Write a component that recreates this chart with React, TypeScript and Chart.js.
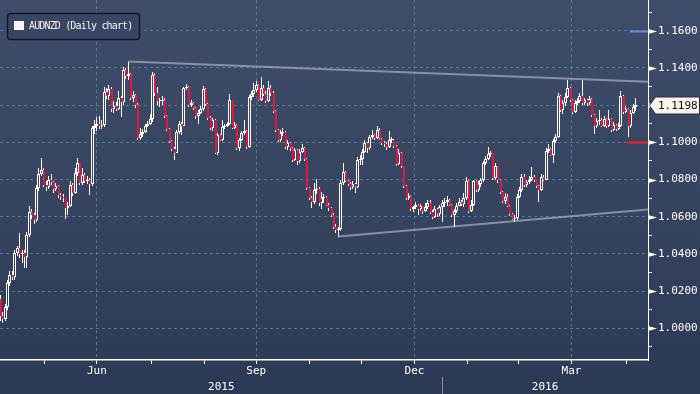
import React, { useEffect, useRef } from 'react';
import { Chart, registerables } from 'chart.js';
Chart.register(...registerables);

// ---- DATA (AUDNZD daily, trading-day index 0 = 21 Apr 2015) ----
const opens = [
  1.0160, 1.0065, 1.0050, 1.0117, 1.0242, 1.0287, 1.0278, 1.0403, 1.0430, 1.0400,
  1.0405, 1.0385, 1.0502, 1.0627, 1.0609, 1.0580, 1.0752, 1.0830, 1.0850, 1.0771,
  1.0762, 1.0800, 1.0785, 1.0750, 1.0765, 1.0717, 1.0707, 1.0698, 1.0645, 1.0660,
  1.0770, 1.0730, 1.0833, 1.0887, 1.0779, 1.0825, 1.0790, 1.0800, 1.0775, 1.1075,
  1.1085, 1.1100, 1.1090, 1.1095, 1.1270, 1.1250, 1.1285, 1.1180, 1.1195, 1.1180,
  1.1240, 1.1215, 1.1390, 1.1355, 1.1365, 1.1240, 1.1255, 1.1200, 1.1025, 1.1045,
  1.1058, 1.1090, 1.1100, 1.1125, 1.1360, 1.1265, 1.1220, 1.1222, 1.1230, 1.1140,
  1.1070, 1.1005, 1.0965, 1.0945, 1.1055, 1.1100, 1.1090, 1.1290, 1.1300, 1.1200,
  1.1210, 1.1185, 1.1140, 1.1160, 1.1180, 1.1285, 1.1205, 1.1130, 1.1075, 1.1120,
  1.0945, 1.1040, 1.1013, 1.1084, 1.1090, 1.1100, 1.1227, 1.1075, 1.1095, 1.0970,
  1.1013, 1.1048, 1.1060, 1.0977, 1.1245, 1.1260, 1.1280, 1.1308, 1.1230, 1.1290,
  1.1260, 1.1220, 1.1290, 1.1265, 1.1170, 1.1066, 1.1013, 1.1048, 1.1055, 1.0977,
  1.0995, 1.0968, 1.0905, 1.0959, 1.0900, 1.0950, 1.0968, 1.0910, 1.0753, 1.0700,
  1.0680, 1.0745, 1.0750, 1.0672, 1.0700, 1.0705, 1.0665, 1.0645, 1.0610, 1.0545,
  1.0530, 1.0535, 1.0780, 1.0840, 1.0790, 1.0775, 1.0760, 1.0775, 1.0760, 1.0905,
  1.0910, 1.0950, 1.0995, 1.0970, 1.1030, 1.1040, 1.1025, 1.1066, 1.1020, 1.0995,
  1.0990, 1.0975, 1.1010, 1.1015, 1.0980, 1.0885, 1.0945, 1.0870, 1.0765, 1.0700,
  1.0710, 1.0640, 1.0650, 1.0665, 1.0640, 1.0655, 1.0630, 1.0650, 1.0672, 1.0625,
  1.0600, 1.0640, 1.0615, 1.0650, 1.0672, 1.0680, 1.0690, 1.0665, 1.0610, 1.0630,
  1.0660, 1.0680, 1.0670, 1.0700, 1.0790, 1.0630, 1.0665, 1.0790, 1.0745, 1.0775,
  1.0795, 1.0887, 1.0910, 1.0935, 1.0940, 1.0810, 1.0870, 1.0800, 1.0735, 1.0685,
  1.0705, 1.0660, 1.0615, 1.0590, 1.0595, 1.0708, 1.0745, 1.0815, 1.0770, 1.0785,
  1.0800, 1.0815, 1.0795, 1.0765, 1.0745, 1.0815, 1.0800, 1.0955, 1.0965, 1.0930,
  1.1005, 1.1030, 1.1250, 1.1175, 1.1210, 1.1245, 1.1290, 1.1225, 1.1165, 1.1210,
  1.1220, 1.1250, 1.1210, 1.1225, 1.1210, 1.1235, 1.1145, 1.1085, 1.1115, 1.1120,
  1.1090, 1.1125, 1.1085, 1.1125, 1.1065, 1.1095, 1.1070, 1.1090, 1.1250, 1.1165,
  1.1180, 1.1085, 1.1160, 1.1190,
];

const highs = [
  1.0180, 1.0090, 1.0130, 1.0260, 1.0310, 1.0310, 1.0420, 1.0440, 1.0511, 1.0420,
  1.0420, 1.0520, 1.0660, 1.0640, 1.0620, 1.0770, 1.0860, 1.0914, 1.0860, 1.0790,
  1.0820, 1.0830, 1.0790, 1.0780, 1.0770, 1.0730, 1.0720, 1.0700, 1.0680, 1.0790,
  1.0780, 1.0860, 1.0914, 1.0890, 1.0860, 1.0835, 1.0820, 1.0810, 1.1090, 1.1120,
  1.1135, 1.1140, 1.1120, 1.1300, 1.1290, 1.1310, 1.1300, 1.1220, 1.1215, 1.1275,
  1.1250, 1.1405, 1.1400, 1.1434, 1.1370, 1.1275, 1.1260, 1.1210, 1.1075, 1.1070,
  1.1100, 1.1115, 1.1150, 1.1380, 1.1375, 1.1300, 1.1240, 1.1250, 1.1240, 1.1145,
  1.1075, 1.1010, 1.0975, 1.1065, 1.1115, 1.1110, 1.1300, 1.1315, 1.1305, 1.1225,
  1.1215, 1.1190, 1.1175, 1.1195, 1.1305, 1.1290, 1.1210, 1.1140, 1.1130, 1.1125,
  1.1050, 1.1045, 1.1120, 1.1100, 1.1110, 1.1260, 1.1230, 1.1110, 1.1100, 1.1025,
  1.1060, 1.1120, 1.1065, 1.1255, 1.1275, 1.1317, 1.1330, 1.1315, 1.1349, 1.1310,
  1.1275, 1.1330, 1.1310, 1.1275, 1.1175, 1.1070, 1.1065, 1.1075, 1.1060, 1.1015,
  1.1000, 1.0975, 1.0970, 1.0965, 1.0965, 1.0990, 1.0975, 1.0915, 1.0760, 1.0710,
  1.0780, 1.0805, 1.0760, 1.0735, 1.0720, 1.0710, 1.0675, 1.0650, 1.0620, 1.0560,
  1.0545, 1.0800, 1.0887, 1.0845, 1.0800, 1.0785, 1.0790, 1.0780, 1.0920, 1.0930,
  1.0965, 1.1010, 1.1000, 1.1040, 1.1066, 1.1045, 1.1088, 1.1075, 1.1025, 1.1005,
  1.1000, 1.1060, 1.1030, 1.1020, 1.0985, 1.0965, 1.0950, 1.0875, 1.0770, 1.0730,
  1.0715, 1.0660, 1.0680, 1.0670, 1.0670, 1.0660, 1.0675, 1.0690, 1.0690, 1.0635,
  1.0655, 1.0645, 1.0665, 1.0690, 1.0700, 1.0710, 1.0695, 1.0670, 1.0640, 1.0675,
  1.0700, 1.0690, 1.0725, 1.0815, 1.0795, 1.0690, 1.0800, 1.0795, 1.0790, 1.0810,
  1.0900, 1.0925, 1.0977, 1.0955, 1.0945, 1.0890, 1.0875, 1.0805, 1.0740, 1.0725,
  1.0720, 1.0665, 1.0620, 1.0610, 1.0720, 1.0760, 1.0830, 1.0830, 1.0800, 1.0820,
  1.0869, 1.0825, 1.0800, 1.0770, 1.0830, 1.0825, 1.0970, 1.0990, 1.0970, 1.1020,
  1.1045, 1.1265, 1.1255, 1.1225, 1.1265, 1.1335, 1.1300, 1.1235, 1.1225, 1.1240,
  1.1265, 1.1335, 1.1240, 1.1235, 1.1250, 1.1240, 1.1150, 1.1130, 1.1175, 1.1130,
  1.1140, 1.1130, 1.1175, 1.1130, 1.1110, 1.1100, 1.1105, 1.1275, 1.1255, 1.1195,
  1.1185, 1.1175, 1.1205, 1.1240,
];

const lows = [
  1.0040, 1.0030, 1.0040, 1.0100, 1.0230, 1.0260, 1.0260, 1.0390, 1.0380, 1.0350,
  1.0322, 1.0322, 1.0490, 1.0590, 1.0560, 1.0570, 1.0740, 1.0820, 1.0760, 1.0740,
  1.0750, 1.0770, 1.0730, 1.0740, 1.0700, 1.0690, 1.0680, 1.0590, 1.0610, 1.0650,
  1.0710, 1.0720, 1.0820, 1.0770, 1.0770, 1.0780, 1.0775, 1.0716, 1.0765, 1.1045,
  1.1060, 1.1070, 1.1070, 1.1080, 1.1235, 1.1225, 1.1165, 1.1160, 1.1170, 1.1175,
  1.1138, 1.1200, 1.1340, 1.1335, 1.1230, 1.1215, 1.1185, 1.1010, 1.1010, 1.1030,
  1.1050, 1.1080, 1.1095, 1.1110, 1.1250, 1.1200, 1.1190, 1.1200, 1.1130, 1.1060,
  1.0995, 1.0955, 1.0905, 1.0940, 1.1045, 1.1040, 1.1085, 1.1280, 1.1190, 1.1190,
  1.1175, 1.1125, 1.1100, 1.1150, 1.1170, 1.1195, 1.1120, 1.1065, 1.1060, 1.0935,
  1.0930, 1.1005, 1.1005, 1.1070, 1.1080, 1.1095, 1.1070, 1.1070, 1.0960, 1.0955,
  1.1005, 1.1040, 1.0965, 1.0970, 1.1225, 1.1245, 1.1270, 1.1220, 1.1220, 1.1250,
  1.1210, 1.1215, 1.1250, 1.1160, 1.1055, 1.1000, 1.1000, 1.1035, 1.0965, 1.0960,
  1.0955, 1.0895, 1.0900, 1.0880, 1.0890, 1.0940, 1.0900, 1.0745, 1.0690, 1.0645,
  1.0670, 1.0720, 1.0660, 1.0640, 1.0675, 1.0655, 1.0630, 1.0600, 1.0535, 1.0510,
  1.0492, 1.0525, 1.0770, 1.0785, 1.0765, 1.0745, 1.0750, 1.0730, 1.0755, 1.0880,
  1.0880, 1.0940, 1.0945, 1.0960, 1.1020, 1.1015, 1.1020, 1.1015, 1.0985, 1.0975,
  1.0960, 1.0970, 1.0995, 1.0970, 1.0875, 1.0880, 1.0860, 1.0755, 1.0690, 1.0690,
  1.0630, 1.0625, 1.0640, 1.0610, 1.0630, 1.0615, 1.0625, 1.0640, 1.0615, 1.0590,
  1.0595, 1.0600, 1.0605, 1.0570, 1.0650, 1.0660, 1.0655, 1.0600, 1.0545, 1.0620,
  1.0655, 1.0660, 1.0650, 1.0690, 1.0620, 1.0625, 1.0660, 1.0735, 1.0735, 1.0760,
  1.0785, 1.0880, 1.0905, 1.0920, 1.0800, 1.0800, 1.0780, 1.0720, 1.0675, 1.0670,
  1.0650, 1.0605, 1.0580, 1.0570, 1.0580, 1.0700, 1.0735, 1.0760, 1.0760, 1.0775,
  1.0790, 1.0785, 1.0755, 1.0680, 1.0740, 1.0790, 1.0795, 1.0940, 1.0925, 1.0887,
  1.0995, 1.1025, 1.1165, 1.1150, 1.1195, 1.1240, 1.1215, 1.1150, 1.1160, 1.1200,
  1.1210, 1.1200, 1.1200, 1.1195, 1.1200, 1.1135, 1.1045, 1.1075, 1.1095, 1.1080,
  1.1080, 1.1075, 1.1080, 1.1055, 1.1060, 1.1060, 1.1065, 1.1080, 1.1150, 1.1155,
  1.1030, 1.1075, 1.1150, 1.1170,
];

const closes = [
  1.0065, 1.0050, 1.0117, 1.0242, 1.0287, 1.0278, 1.0403, 1.0430, 1.0400, 1.0405,
  1.0385, 1.0502, 1.0627, 1.0609, 1.0580, 1.0752, 1.0830, 1.0850, 1.0771, 1.0762,
  1.0800, 1.0785, 1.0750, 1.0765, 1.0717, 1.0707, 1.0698, 1.0645, 1.0660, 1.0770,
  1.0730, 1.0833, 1.0887, 1.0779, 1.0825, 1.0790, 1.0800, 1.0775, 1.1075, 1.1085,
  1.1100, 1.1090, 1.1095, 1.1270, 1.1250, 1.1285, 1.1180, 1.1195, 1.1180, 1.1240,
  1.1215, 1.1390, 1.1355, 1.1365, 1.1240, 1.1255, 1.1200, 1.1025, 1.1045, 1.1058,
  1.1090, 1.1100, 1.1125, 1.1360, 1.1265, 1.1220, 1.1222, 1.1230, 1.1140, 1.1070,
  1.1005, 1.0965, 1.0945, 1.1055, 1.1100, 1.1090, 1.1290, 1.1300, 1.1200, 1.1210,
  1.1185, 1.1140, 1.1160, 1.1180, 1.1285, 1.1205, 1.1130, 1.1075, 1.1120, 1.0945,
  1.1040, 1.1013, 1.1084, 1.1090, 1.1100, 1.1227, 1.1075, 1.1095, 1.0970, 1.1013,
  1.1048, 1.1060, 1.0977, 1.1245, 1.1260, 1.1280, 1.1308, 1.1230, 1.1290, 1.1260,
  1.1220, 1.1290, 1.1265, 1.1170, 1.1066, 1.1013, 1.1048, 1.1055, 1.0977, 1.0995,
  1.0968, 1.0905, 1.0959, 1.0900, 1.0950, 1.0968, 1.0910, 1.0753, 1.0700, 1.0680,
  1.0745, 1.0750, 1.0672, 1.0700, 1.0705, 1.0665, 1.0645, 1.0610, 1.0545, 1.0530,
  1.0535, 1.0780, 1.0840, 1.0790, 1.0775, 1.0760, 1.0775, 1.0760, 1.0905, 1.0910,
  1.0950, 1.0995, 1.0970, 1.1030, 1.1040, 1.1025, 1.1066, 1.1020, 1.0995, 1.0990,
  1.0975, 1.1010, 1.1015, 1.0980, 1.0885, 1.0945, 1.0870, 1.0765, 1.0700, 1.0710,
  1.0640, 1.0650, 1.0665, 1.0640, 1.0655, 1.0630, 1.0650, 1.0672, 1.0625, 1.0600,
  1.0640, 1.0615, 1.0650, 1.0672, 1.0680, 1.0690, 1.0665, 1.0610, 1.0630, 1.0660,
  1.0680, 1.0670, 1.0700, 1.0790, 1.0630, 1.0665, 1.0790, 1.0745, 1.0775, 1.0795,
  1.0887, 1.0910, 1.0935, 1.0940, 1.0810, 1.0870, 1.0800, 1.0735, 1.0685, 1.0705,
  1.0660, 1.0615, 1.0590, 1.0595, 1.0708, 1.0745, 1.0815, 1.0770, 1.0785, 1.0800,
  1.0815, 1.0795, 1.0765, 1.0745, 1.0815, 1.0800, 1.0955, 1.0965, 1.0930, 1.1005,
  1.1030, 1.1250, 1.1175, 1.1210, 1.1245, 1.1290, 1.1225, 1.1165, 1.1210, 1.1220,
  1.1250, 1.1210, 1.1225, 1.1210, 1.1235, 1.1145, 1.1085, 1.1115, 1.1120, 1.1090,
  1.1125, 1.1085, 1.1125, 1.1065, 1.1095, 1.1070, 1.1090, 1.1250, 1.1165, 1.1180,
  1.1085, 1.1160, 1.1190, 1.1198,
];

// month boundaries (trading-day index of first day of each month)
const monthStarts = [8, 29, 51, 74, 95, 117, 139, 160, 183, 204, 225, 248];
const monthNames = ['May', 'Jun', 'Jul', 'Aug', 'Sep', 'Oct', 'Nov', 'Dec', 'Jan', 'Feb', 'Mar', 'Apr'];
const labeledMonths = ['Jun', 'Sep', 'Dec', 'Mar'];
const gridMonths = ['Jul', 'Oct', 'Jan', 'Apr'];
const years = ['2015', '2016'];
const yearStarts = [0, 183];

// price-axis ticks (every 0.01; labelled every 0.02)
const yTickValues = [
  0.99, 1.00, 1.01, 1.02, 1.03, 1.04, 1.05, 1.06, 1.07, 1.08,
  1.09, 1.10, 1.11, 1.12, 1.13, 1.14, 1.15, 1.16, 1.17,
];
const yLabelValues = [1.00, 1.02, 1.04, 1.06, 1.08, 1.10, 1.12, 1.14, 1.16];

// trend lines (index, price)
const upperTrendX = [53, 268.2];
const upperTrendY = [1.1434, 1.1325];
const lowerTrendX = [140, 268.2];
const lowerTrendY = [1.0494, 1.0639];

// alert levels on the price axis
const alertLevels = [1.16, 1.10];
const alertColors = ['#5b8ee6', '#ff2020'];

const seriesTitle = 'AUDNZD (Daily chart)';

const X_MIN = -0.12;
const X_MAX = 268.2;
const Y_MIN = 0.98296;
const Y_MAX = 1.17651;

const GRID = 'rgba(96,136,162,0.75)';
const RED = '#e3173e';
const BG_STOPS: [number, string][] = [[0, '#3f4d6b'], [0.5, '#36445f'], [1, '#2b3955']];
const MONO = "'DejaVu Sans Mono', monospace";

const isLabelled = (v: number | undefined) =>
  v !== undefined && yLabelValues.some((l) => Math.abs(l - v) < 1e-6);

// snap bar elements (computed by the scales) to whole pixels for crisp candles
const snapPlugin = {
  id: 'snap',
  afterDatasetsUpdate(chart: any) {
    chart.data.datasets.forEach((ds: any, di: number) => {
      const meta = chart.getDatasetMeta(di);
      if (meta.type !== 'bar' || !ds.snapWidth) return;
      const w = ds.snapWidth;
      meta.data.forEach((el: any) => {
        const c = Math.floor(el.x);
        const left = c - Math.floor((w - 1) / 2);
        el.x = left + w / 2;
        el.width = w;
        let yv = Math.round(el.y);
        const b = Math.round(el.base);
        if (Math.abs(yv - b) < 1) yv = b - 1;
        el.y = yv;
        el.base = b;
      });
    });
  },
};

const overlayPlugin = {
  id: 'overlay',
  afterDraw(chart: any) {
    const { ctx, chartArea, scales } = chart;
    const x = scales.x;
    const y = scales.y;
    const right = chartArea.right;
    const bottom = chartArea.bottom;
    ctx.save();

    // arrow-head ticks at labelled prices
    ctx.fillStyle = '#ffffff';
    for (const v of yLabelValues) {
      const py = Math.round(y.getPixelForValue(v)) + 0.5;
      ctx.beginPath();
      ctx.moveTo(right, py - 2.5);
      ctx.lineTo(right + 9, py);
      ctx.lineTo(right, py + 2.5);
      ctx.closePath();
      ctx.fill();
    }

    // alert level markers
    alertLevels.forEach((lvl, i) => {
      const py = Math.round(y.getPixelForValue(lvl)) + 0.5;
      ctx.strokeStyle = alertColors[i];
      ctx.lineWidth = 2;
      ctx.beginPath();
      ctx.moveTo(right - (i === 0 ? 18 : 20), py);
      ctx.lineTo(right, py);
      ctx.stroke();
    });

    // last price label
    const last = closes[closes.length - 1];
    const ly = Math.round(y.getPixelForValue(last)) + 0.5;
    ctx.beginPath();
    ctx.moveTo(right + 1.5, ly);
    ctx.lineTo(right + 7.5, ly - 8.5);
    ctx.lineTo(699.5, ly - 8.5);
    ctx.lineTo(699.5, ly + 8.5);
    ctx.lineTo(right + 7.5, ly + 8.5);
    ctx.closePath();
    ctx.fillStyle = '#fdf2ec';
    ctx.fill();
    ctx.strokeStyle = '#2a2f3a';
    ctx.lineWidth = 1;
    ctx.stroke();
    ctx.fillStyle = '#111111';
    ctx.font = `11px ${MONO}`;
    ctx.textAlign = 'left';
    ctx.textBaseline = 'middle';
    ctx.fillText(last.toFixed(4), right + 10, ly + 0.5);

    // month labels (centered within the month)
    ctx.fillStyle = '#ffffff';
    ctx.textAlign = 'center';
    monthNames.forEach((m, i) => {
      if (!labeledMonths.includes(m)) return;
      const a = monthStarts[i];
      const b = i + 1 < monthStarts.length ? monthStarts[i + 1] : X_MAX;
      ctx.fillText(m, x.getPixelForValue((a + b) / 2), bottom + 11.5);
    });

    // year labels
    years.forEach((yr, i) => {
      const a = Math.max(X_MIN, yearStarts[i]);
      const b = i + 1 < yearStarts.length ? yearStarts[i + 1] : X_MAX;
      ctx.fillText(yr, x.getPixelForValue((a + b) / 2), bottom + 27);
    });
    // year separator
    for (let i = 1; i < yearStarts.length; i++) {
      const px = Math.round(x.getPixelForValue(yearStarts[i])) + 0.5;
      ctx.strokeStyle = '#8790a4';
      ctx.lineWidth = 1;
      ctx.beginPath();
      ctx.moveTo(px, bottom + 17);
      ctx.lineTo(px, 394);
      ctx.stroke();
    }

    // legend box
    ctx.beginPath();
    (ctx as any).roundRect(7.5, 13.5, 132, 26, 3);
    ctx.fillStyle = 'rgba(56,70,99,0.95)';
    ctx.fill();
    ctx.strokeStyle = '#121826';
    ctx.lineWidth = 1.5;
    ctx.stroke();
    ctx.fillStyle = '#fff1ec';
    ctx.fillRect(14, 21, 10, 9);
    ctx.fillStyle = '#f5f5f5';
    ctx.font = `10px ${MONO}`;
    ctx.textAlign = 'left';
    ctx.textBaseline = 'middle';
    try { (ctx as any).letterSpacing = '-0.85px'; } catch (e) { /* ignore */ }
    ctx.fillText(seriesTitle, 29, 26.5);
    try { (ctx as any).letterSpacing = '0px'; } catch (e) { /* ignore */ }

    ctx.restore();
  },
};

export default function App() {
  const ref = useRef<HTMLCanvasElement | null>(null);

  useEffect(() => {
    document.body.style.margin = '0';
    const canvas = ref.current;
    if (!canvas) return;

    const g = canvas.getContext('2d')!.createLinearGradient(0, 0, 0, 394);
    BG_STOPS.forEach(([o, c]) => g.addColorStop(o, c));

    const idx = closes.map((_, i) => i);
    const bullIdx = idx.filter((i) => closes[i] >= opens[i]);
    const bearIdx = idx.filter((i) => closes[i] < opens[i]);

    const chart = new Chart(canvas, {
      type: 'bar',
      data: {
        datasets: [
          {
            type: 'line',
            data: upperTrendX.map((v, i) => ({ x: v, y: upperTrendY[i] })),
            borderColor: 'rgba(172,180,198,0.68)',
            borderWidth: 2,
            pointRadius: 0,
            order: 4,
          } as any,
          {
            type: 'line',
            data: lowerTrendX.map((v, i) => ({ x: v, y: lowerTrendY[i] })),
            borderColor: 'rgba(172,180,198,0.68)',
            borderWidth: 2,
            pointRadius: 0,
            order: 4,
          } as any,
          {
            type: 'bar',
            data: idx.map((i) => ({ x: i, y: [lows[i], highs[i]] })),
            backgroundColor: '#ffffff',
            borderWidth: 0,
            inflateAmount: 0,
            grouped: false,
            categoryPercentage: 1,
            barPercentage: 0.42,
            minBarLength: 1,
            snapWidth: 1,
            order: 3,
          } as any,
          {
            type: 'bar',
            data: bullIdx.map((i) => ({ x: i, y: [opens[i], closes[i]] })),
            backgroundColor: g,
            borderColor: '#ffffff',
            borderWidth: 1,
            borderSkipped: false,
            inflateAmount: 0,
            grouped: false,
            categoryPercentage: 1,
            barPercentage: 1.24,
            minBarLength: 1,
            snapWidth: 3,
            order: 2,
          } as any,
          {
            type: 'bar',
            data: bearIdx.map((i) => ({ x: i, y: [opens[i], closes[i]] })),
            backgroundColor: RED,
            borderWidth: 0,
            inflateAmount: 0,
            grouped: false,
            categoryPercentage: 1,
            barPercentage: 0.83,
            minBarLength: 1,
            snapWidth: 2,
            order: 1,
          } as any,
        ],
      },
      options: {
        responsive: false,
        animation: false,
        events: [],
        layout: { padding: 0 },
        plugins: {
          legend: { display: false },
          tooltip: { enabled: false },
        },
        scales: {
          x: {
            type: 'linear',
            min: X_MIN,
            max: X_MAX,
            bounds: 'data',
            offset: false,
            afterBuildTicks: (scale: any) => {
              scale.ticks = monthStarts.map((v) => ({ value: v }));
              scale.min = X_MIN;
              scale.max = X_MAX;
            },
            afterFit: (scale: any) => {
              scale.height = 34;
              scale.paddingLeft = 0;
              scale.paddingRight = 0;
            },
            ticks: { display: false },
            grid: {
              color: (c: any) => {
                const v = c.tick ? c.tick.value : undefined;
                const k = monthStarts.indexOf(v);
                return k >= 0 && gridMonths.includes(monthNames[k]) ? GRID : 'rgba(0,0,0,0)';
              },
              tickColor: '#ffffff',
              tickLength: 4,
              tickWidth: 1,
              lineWidth: 1,
            },
            border: { display: true, color: '#ffffff', width: 1.5, dash: [3, 3] },
          },
          y: {
            type: 'linear',
            position: 'right',
            min: Y_MIN,
            max: Y_MAX,
            bounds: 'data',
            afterBuildTicks: (scale: any) => {
              scale.ticks = yTickValues.map((v) => ({ value: v }));
              scale.min = Y_MIN;
              scale.max = Y_MAX;
            },
            afterFit: (scale: any) => {
              scale.width = 52;
              scale.paddingTop = 0;
              scale.paddingBottom = 0;
            },
            ticks: {
              padding: 6,
              color: '#ffffff',
              font: { family: MONO, size: 11 },
              callback: (v: any) => (isLabelled(Number(v)) ? Number(v).toFixed(4) : ''),
            },
            grid: {
              color: (c: any) => (isLabelled(c.tick ? c.tick.value : undefined) ? GRID : 'rgba(0,0,0,0)'),
              tickColor: '#ffffff',
              tickLength: 4,
              tickWidth: 1,
              lineWidth: 1,
            },
            border: { display: true, color: '#ffffff', width: 1, dash: [3, 3] },
          },
        },
      } as any,
      plugins: [snapPlugin, overlayPlugin],
    });

    return () => chart.destroy();
  }, []);

  return (
    <div
      style={{
        position: 'fixed',
        left: 0,
        top: 0,
        width: 700,
        height: 394,
        background: `linear-gradient(180deg, ${BG_STOPS.map(([o, c]) => `${c} ${o * 100}%`).join(', ')})`,
      }}
    >
      <canvas ref={ref} width={700} height={394} style={{ display: 'block', width: 700, height: 394 }} />
    </div>
  );
}
